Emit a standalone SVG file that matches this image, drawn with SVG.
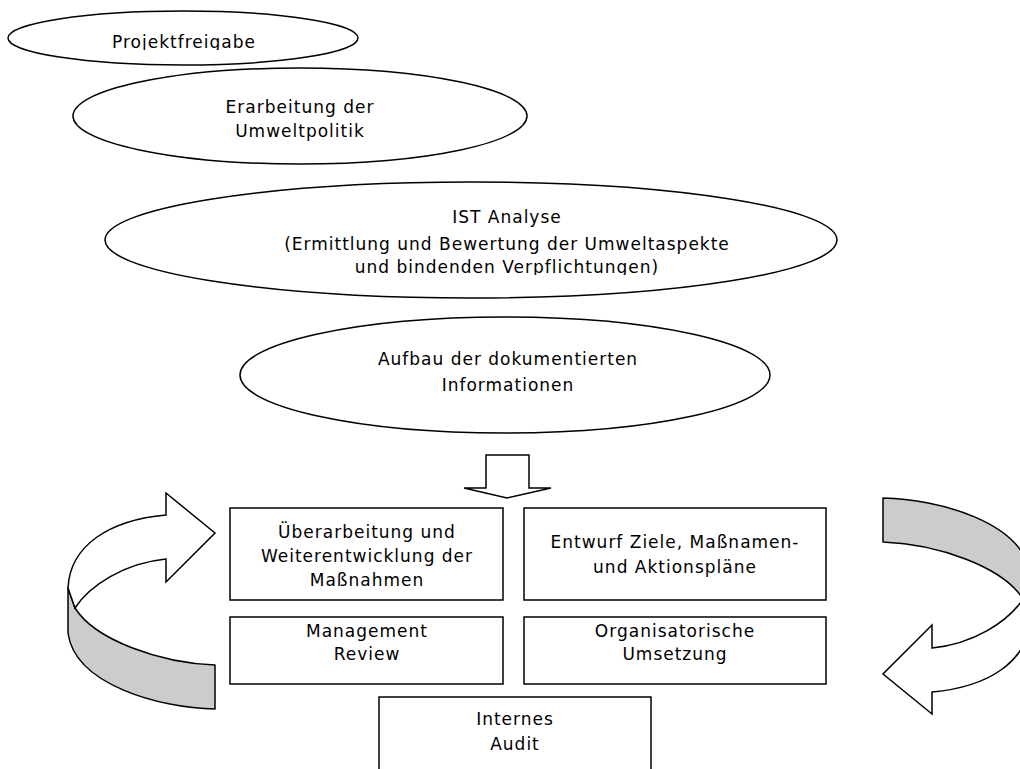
<svg xmlns="http://www.w3.org/2000/svg" width="1020" height="769" viewBox="0 0 1020 769">
<style>
.sh{fill:#fff;stroke:#000;stroke-width:1.5}
.gr{fill:#cccccc;stroke:#000;stroke-width:1.5;stroke-linejoin:round}
.wh{fill:#fff;stroke:#000;stroke-width:1.5;stroke-linejoin:miter}
text{font-family:"DejaVu Sans","Liberation Sans",sans-serif;font-size:17px;letter-spacing:1px;fill:#000;text-anchor:middle}
</style>
<defs>
<clipPath id="c1"><rect x="0" y="0" width="400" height="50"/></clipPath>
<clipPath id="c3"><rect x="0" y="180" width="900" height="95"/></clipPath>
<g id="curl">
<path class="gr" d="M68,588 L68,633 C75,685 160,708 215,709 L215,665 C160,663 95,640 75,608 Z"/>
<path class="wh" d="M68,588 C70,545 110,520 166,515 L166,493 L215,533 L166,582 L166,559 C125,563 90,585 75,608 Z"/>
</g>
</defs>
<g id="n1"><ellipse class="sh" cx="183" cy="38" rx="175" ry="27"/><text x="184" y="48" clip-path="url(#c1)">Projektfreigabe</text></g>
<g id="n2"><ellipse class="sh" cx="300" cy="116" rx="227" ry="48"/><text x="300" y="113">Erarbeitung der</text><text x="300" y="137">Umweltpolitik</text></g>
<g id="n3"><ellipse class="sh" cx="471" cy="240" rx="366" ry="58"/><g clip-path="url(#c3)"><text x="507" y="223">IST Analyse</text><text x="507" y="250">(Ermittlung und Bewertung der Umweltaspekte</text><text x="507" y="273">und bindenden Verpflichtungen)</text></g></g>
<g id="n4"><ellipse class="sh" cx="505" cy="375" rx="265" ry="58"/><text x="508" y="365">Aufbau der dokumentierten</text><text x="508" y="391">Informationen</text></g>
<g id="b1"><rect class="sh" x="230" y="508" width="273" height="92"/><text x="367" y="538">Überarbeitung und</text><text x="367" y="562">Weiterentwicklung der</text><text x="367" y="586">Maßnahmen</text></g>
<g id="b2"><rect class="sh" x="524" y="508" width="302" height="92"/><text x="675" y="548">Entwurf Ziele, Maßnamen-</text><text x="675" y="573">und Aktionspläne</text></g>
<g id="b3"><rect class="sh" x="230" y="617" width="273" height="67"/><text x="367" y="637">Management</text><text x="367" y="660">Review</text></g>
<g id="b4"><rect class="sh" x="524" y="617" width="302" height="67"/><text x="675" y="637">Organisatorische</text><text x="675" y="660">Umsetzung</text></g>
<g id="b5"><rect class="sh" x="379" y="697" width="272" height="90"/><text x="515" y="725">Internes</text><text x="515" y="750">Audit</text></g>
<g id="connectors">
<path class="wh" d="M486,455 L529,455 L529,488 L551,488 L507,498 L464,488 L486,488 Z"/>
<use href="#curl"/>
<use href="#curl" transform="rotate(180 549 603.5)"/>
</g>
</svg>
